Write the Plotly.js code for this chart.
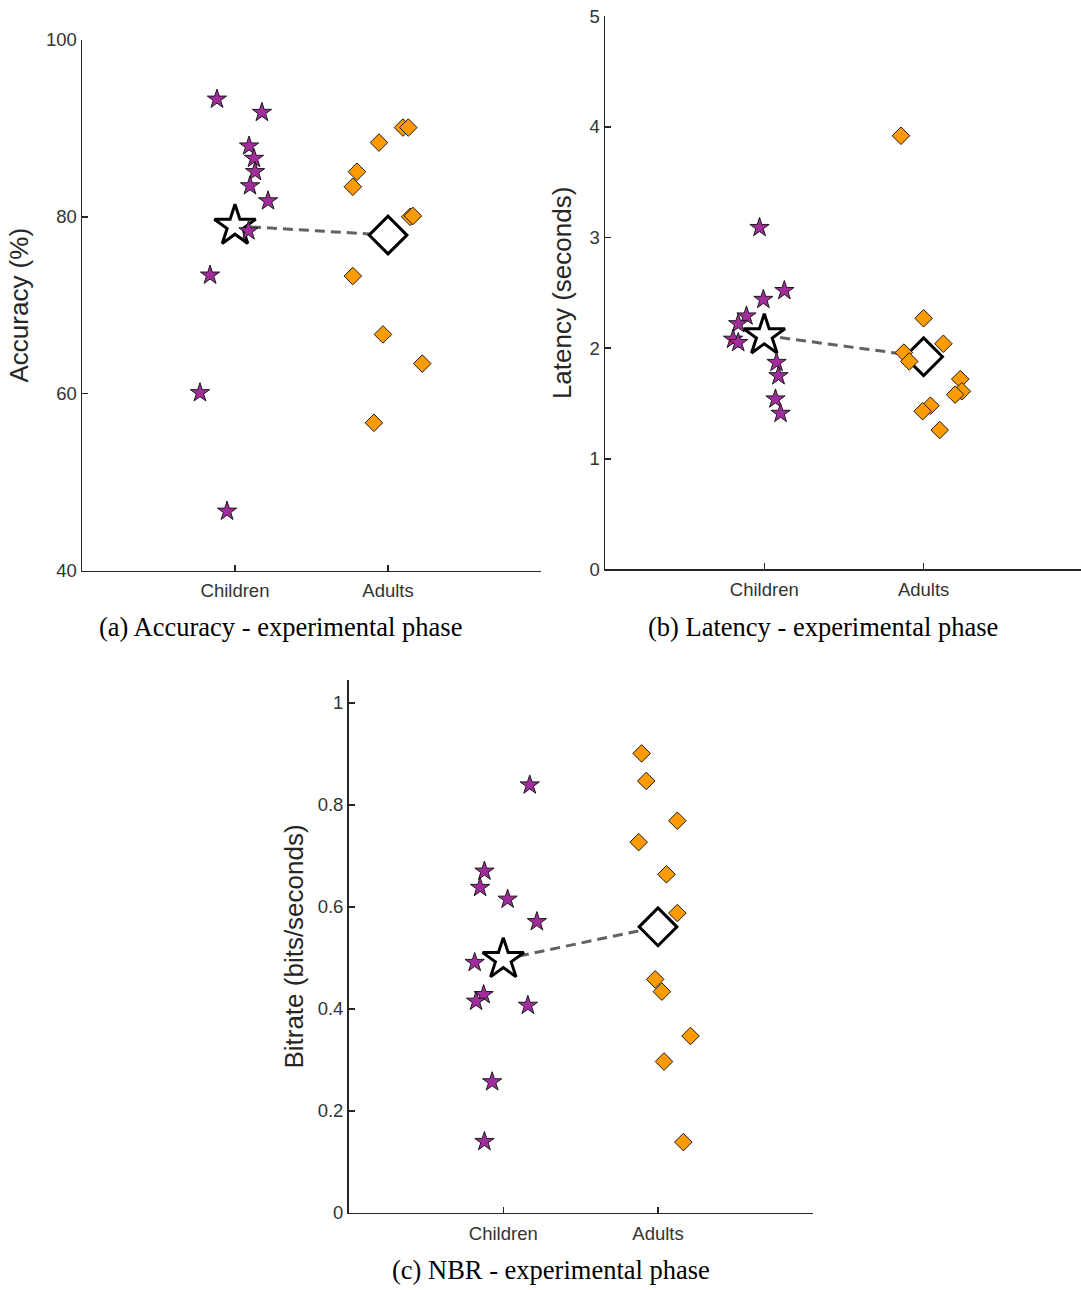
<!DOCTYPE html>
<html>
<head>
<meta charset="utf-8">
<script src="https://cdn.plot.ly/plotly-3.0.1.min.js"></script>
<style>
  html, body { margin: 0; padding: 0; background: #ffffff; }
  #chart { width: 1081px; height: 1290px; }
</style>
</head>
<body>
<div id="chart"></div>
<script>
// ---------- data ----------
const groups = ['Children', 'Adults'];

// (a) Accuracy (%)
const accChildren       = [93.3, 91.8, 88.0, 86.6, 85.1, 83.5, 81.8, 78.4, 73.4, 60.1, 46.7];
const accChildrenJitter = [-0.118, 0.176, 0.092, 0.124, 0.131, 0.098, 0.216, 0.088, -0.163, -0.229, -0.052];
const accAdults         = [90.1, 90.1, 88.4, 85.1, 83.4, 80.0, 80.1, 73.3, 66.7, 63.4, 56.7];
const accAdultsJitter   = [0.098, 0.133, -0.059, -0.203, -0.230, 0.145, 0.163, -0.230, -0.033, 0.224, -0.092];

// (b) Latency (seconds)
const latChildren       = [3.09, 2.52, 2.44, 2.29, 2.22, 2.08, 2.05, 1.87, 1.75, 1.54, 1.41];
const latChildrenJitter = [-0.030, 0.126, -0.006, -0.112, -0.164, -0.196, -0.164, 0.077, 0.089, 0.070, 0.102];
const latAdults         = [3.92, 2.27, 2.04, 1.96, 1.88, 1.72, 1.61, 1.58, 1.48, 1.43, 1.26];
const latAdultsJitter   = [-0.142, 0.000, 0.124, -0.124, -0.090, 0.230, 0.240, 0.198, 0.043, -0.006, 0.101];

// (c) Bitrate (bits/seconds)
const bitChildren       = [0.839, 0.670, 0.638, 0.615, 0.571, 0.491, 0.428, 0.415, 0.407, 0.257, 0.140];
const bitChildrenJitter = [0.171, -0.122, -0.150, 0.028, 0.217, -0.185, -0.127, -0.176, 0.159, -0.072, -0.122];
const bitAdults         = [0.901, 0.847, 0.769, 0.727, 0.664, 0.588, 0.458, 0.434, 0.347, 0.297, 0.139];
const bitAdultsJitter   = [-0.106, -0.076, 0.125, -0.125, 0.055, 0.125, -0.018, 0.025, 0.210, 0.039, 0.164];

const yTitles  = ['Accuracy (%)', 'Latency (seconds)', 'Bitrate (bits/seconds)'];
const captions = ['(a) Accuracy - experimental phase', '(b) Latency - experimental phase', '(c) NBR - experimental phase'];
const accTicks = [40, 60, 80, 100];
const latTicks = [0, 1, 2, 3, 4, 5];
const bitTicks = [0, 0.2, 0.4, 0.6, 0.8, 1];
const bitTickText = ['0', '0.2', '0.4', '0.6', '0.8', '1'];

// ---------- styling ----------
const PURPLE = '#A12D9C';
const ORANGE = '#FF9A00';
const AXC = '#262626';
const SANS = 'Liberation Sans, Arial, Helvetica, sans-serif';
const SERIF = 'Liberation Serif, Times New Roman, serif';

const mean = a => a.reduce((s, v) => s + v, 0) / a.length;
const pos = (g, jit) => jit.map(j => g + j);

function panelTraces(xa, ya, childVals, childJit, adultVals, adultJit) {
  const mC = mean(childVals), mA = mean(adultVals);
  return [
    { type: 'scatter', mode: 'lines', x: [1, 2], y: [mC, mA], xaxis: xa, yaxis: ya,
      line: { color: '#626262', width: 3, dash: '10px,6px' }, hoverinfo: 'skip', showlegend: false },
    { type: 'scatter', mode: 'markers', x: [1], y: [mC], xaxis: xa, yaxis: ya, name: 'Children mean',
      marker: { symbol: 'star', size: 31, color: '#ffffff', line: { color: '#000000', width: 3 } }, showlegend: false },
    { type: 'scatter', mode: 'markers', x: [2], y: [mA], xaxis: xa, yaxis: ya, name: 'Adults mean',
      marker: { symbol: 'diamond', size: 29, color: '#ffffff', line: { color: '#000000', width: 3 } }, showlegend: false },
    { type: 'scatter', mode: 'markers', x: pos(1, childJit), y: childVals, xaxis: xa, yaxis: ya, name: groups[0],
      marker: { symbol: 'star', size: 14.5, color: PURPLE, line: { color: '#1a1a1a', width: 1 } }, showlegend: false },
    { type: 'scatter', mode: 'markers', x: pos(2, adultJit), y: adultVals, xaxis: xa, yaxis: ya, name: groups[1],
      marker: { symbol: 'diamond', size: 13.5, color: ORANGE, line: { color: '#1a1a1a', width: 1 } }, showlegend: false }
  ];
}

const data = [].concat(
  panelTraces('x', 'y', accChildren, accChildrenJitter, accAdults, accAdultsJitter),
  panelTraces('x2', 'y2', latChildren, latChildrenJitter, latAdults, latAdultsJitter),
  panelTraces('x3', 'y3', bitChildren, bitChildrenJitter, bitAdults, bitAdultsJitter)
);

function xAxis(domain, range, anchor) {
  return {
    domain: domain, range: range, type: 'linear', anchor: anchor,
    tickmode: 'array', tickvals: [1, 2], ticktext: groups,
    showline: true, linecolor: AXC, linewidth: 1.5,
    ticks: 'inside', ticklen: 6, tickwidth: 1.5, tickcolor: AXC,
    ticklabelstandoff: 3,
    showgrid: false, zeroline: false, automargin: false,
    tickfont: { family: SANS, size: 18.5, color: '#333333' }
  };
}
function yAxis(domain, range, tickvals, ticktext, title, anchor, standoff) {
  const a = {
    domain: domain, range: range, type: 'linear', anchor: anchor,
    tickmode: 'array', tickvals: tickvals,
    showline: true, linecolor: AXC, linewidth: 1.5,
    ticks: 'inside', ticklen: 6, tickwidth: 1.5, tickcolor: AXC,
    showgrid: false, zeroline: false, automargin: false,
    tickfont: { family: SANS, size: 18.5, color: '#333333' },
    title: { text: title, font: { family: SANS, size: 26, color: AXC }, standoff: standoff }
  };
  if (ticktext) a.ticktext = ticktext;
  return a;
}

const layout = {
  width: 1081, height: 1290,
  margin: { l: 0, r: 0, t: 0, b: 0 },
  paper_bgcolor: '#ffffff', plot_bgcolor: '#ffffff',
  showlegend: false,
  xaxis:  xAxis([0.07586, 0.50046], [0, 3], 'y'),
  yaxis:  yAxis([0.55775, 0.96899], [40, 100], accTicks, null, yTitles[0], 'x', 10),
  xaxis2: xAxis([0.55967, 1.0], [0, 2.988], 'y2'),
  yaxis2: yAxis([0.5586, 0.98736], [0, 5], latTicks, null, yTitles[1], 'x2', 10),
  xaxis3: xAxis([0.32248, 0.75180], [0, 3], 'y3'),
  yaxis3: yAxis([0.0597, 0.4729], [0, 1.045], bitTicks, bitTickText, yTitles[2], 'x3', 6),
  annotations: [
    { text: captions[0], x: 280 / 1081, y: 1 - 627 / 1290, xref: 'paper', yref: 'paper', xanchor: 'center', yanchor: 'middle', showarrow: false, font: { family: SERIF, size: 26.5, color: '#000000' } },
    { text: captions[1], x: 823 / 1081, y: 1 - 627 / 1290, xref: 'paper', yref: 'paper', xanchor: 'center', yanchor: 'middle', showarrow: false, font: { family: SERIF, size: 26.5, color: '#000000' } },
    { text: captions[2], x: 551 / 1081, y: 1 - 1270 / 1290, xref: 'paper', yref: 'paper', xanchor: 'center', yanchor: 'middle', showarrow: false, font: { family: SERIF, size: 26.5, color: '#000000' } }
  ]
};

Plotly.newPlot('chart', data, layout, { staticPlot: true, displayModeBar: false });
</script>
</body>
</html>
